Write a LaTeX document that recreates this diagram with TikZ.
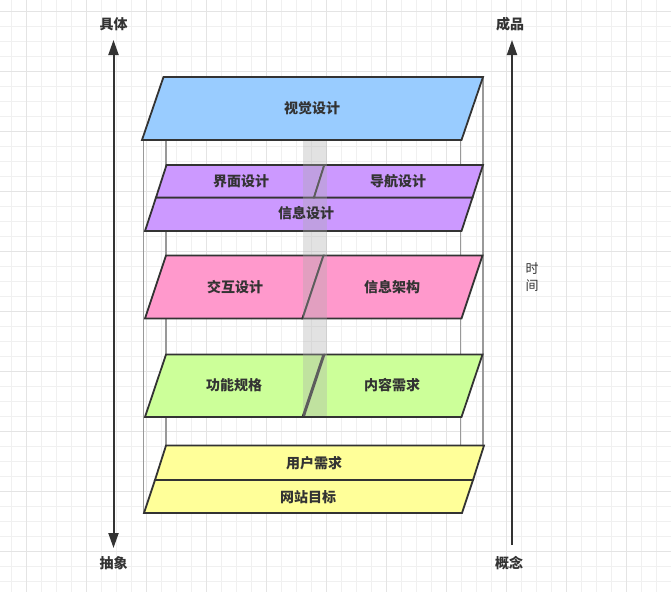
\documentclass[tikz,border=0pt]{standalone}
\usepackage{fontspec}
\newfontfamily\cjk{Noto Sans CJK SC}
\usetikzlibrary{arrows.meta}
\definecolor{layerBlue}{HTML}{99CCFF}
\definecolor{layerPurple}{HTML}{CC99FF}
\definecolor{layerPink}{HTML}{FF99CC}
\definecolor{layerGreen}{HTML}{CCFF99}
\definecolor{layerYellow}{HTML}{FFFF99}
\definecolor{darkLine}{HTML}{333333}
\definecolor{boxGray}{HTML}{999999}
\definecolor{columnGray}{HTML}{ACACAC}
\definecolor{gridMinor}{HTML}{F0F0F0}
\definecolor{gridMajor}{HTML}{E4E4E4}

\begin{document}
\begin{tikzpicture}[
    x=1pt,y=-1pt,
    layer/.style={draw=darkLine,line width=1.8pt},
    boxedge/.style={draw=boxGray,line width=1.8pt},
    label/.style={font=\cjk\bfseries\fontsize{14}{16}\selectfont,text=darkLine},
    axislabel/.style={font=\cjk\bfseries\fontsize{14}{16}\selectfont,text=darkLine},
    axis/.style={draw=darkLine,line width=2pt},
    column/.style={fill=columnGray,fill opacity=0.35,draw=none}
]
\useasboundingbox (0,0) rectangle (671,592);

% Grid
\foreach \i in {0,...,44}
    \draw[gridMinor,line width=1pt] (11.7+15*\i,0) -- (11.7+15*\i,592);
\foreach \j in {0,...,38}
    \draw[gridMinor,line width=1pt] (0,11+15*\j) -- (671,11+15*\j);
\foreach \i in {0,...,10}
    \draw[gridMajor,line width=1pt] (26.7+60*\i,0) -- (26.7+60*\i,592);
\foreach \j in {0,...,9}
    \draw[gridMajor,line width=1pt] (0,11+60*\j) -- (671,11+60*\j);

% Box edges
\draw[boxedge] (143.5,140) -- (143.5,513);
\draw[boxedge] (166,140) -- (166,446);
\draw[boxedge] (460.5,140) -- (460.5,513);
\draw[boxedge] (483,77) -- (483,446);

% Layers
\draw[layer,fill=layerBlue] (163.5,77) -- (483,77) -- (461.5,140) -- (142,140) -- cycle;
\draw[layer,fill=layerPurple] (156,197.5) -- (472.5,197.5) -- (461.5,231) -- (145,231) -- cycle;
\draw[layer,fill=layerPurple] (166.5,165) -- (324.3,165) -- (314,197.5) -- (156,197.5) -- cycle;
\draw[layer,fill=layerPurple] (324.3,165) -- (483,165) -- (472.5,197.5) -- (314,197.5) -- cycle;
\draw[layer,fill=layerPink] (166,255.5) -- (323.5,255.5) -- (302.5,318.5) -- (145,318.5) -- cycle;
\draw[layer,fill=layerPink] (323.5,255.5) -- (482.5,255.5) -- (461.5,318.5) -- (302.5,318.5) -- cycle;
\draw[layer,fill=layerGreen] (166,354.5) -- (323.3,354.5) -- (302.5,417) -- (145,417) -- cycle;
\draw[layer,fill=layerGreen] (324.5,354.5) -- (482.5,354.5) -- (461.5,417) -- (303.8,417) -- cycle;
\draw[layer,fill=layerYellow] (166,445.5) -- (484,445.5) -- (473,480) -- (155,480) -- cycle;
\draw[layer,fill=layerYellow] (155,480) -- (473,480) -- (462,513) -- (144,513) -- cycle;

% Column
\fill[column] (303,140.9) rectangle (327,416.1);

% Layer names
\node[label] (visual) at (312,108) {视觉设计};
\node[label] (ui) at (241,181) {界面设计};
\node[label] (nav) at (398,181) {导航设计};
\node[label] (info) at (306,213.5) {信息设计};
\node[label] (interact) at (235,287) {交互设计};
\node[label] (arch) at (392,287) {信息架构};
\node[label] (func) at (234,385) {功能规格};
\node[label] (content) at (392,385) {内容需求};
\node[label] (user) at (314,463) {用户需求};
\node[label] (goal) at (308,497) {网站目标};

% Axes
\node[axislabel] (concrete) at (113.5,24) {具体};
\node[axislabel] (abstract) at (113.5,563) {抽象};
\node[axislabel] (product) at (510,24) {成品};
\node[axislabel] (concept) at (509,563) {概念};
\node[font=\cjk\fontsize{13}{17}\selectfont,text=darkLine,align=center] (time) at (532,277) {时\\间};
\coordinate (ltop) at (113.5,40);
\coordinate (lbot) at (113.5,548);
\coordinate (rtop) at (512,40);
\coordinate (rbot) at (512,545);
\draw[axis,{Triangle[length=15pt,width=10pt]}-{Triangle[length=15pt,width=10pt]}] (lbot) -- (ltop);
\draw[axis,-{Triangle[length=15pt,width=10pt]}] (rbot) -- (rtop);
\end{tikzpicture}
\end{document}
